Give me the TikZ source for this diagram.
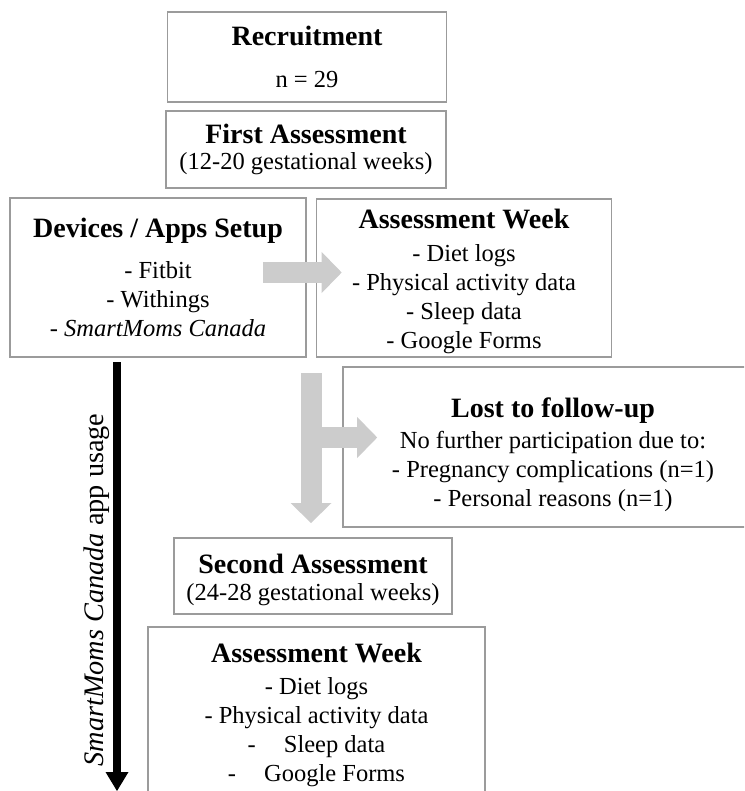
\documentclass[tikz,border=0pt]{standalone}
\usepackage{fontspec}
\setmainfont{Liberation Serif}
\usetikzlibrary{arrows.meta,calc}

\definecolor{boxgray}{RGB}{155,155,155}
\definecolor{flowgray}{RGB}{204,204,204}

\newcommand{\ttl}[1]{{\fontsize{28}{29}\selectfont\bfseries #1}}

\tikzset{
  stage/.style={draw=boxgray, line width=1.6pt, align=center, inner sep=0pt,
    font=\fontsize{24.5}{29}\selectfont},
  flow/.style={draw=flowgray, line width=21pt,
    -{Triangle[length=20pt, width=41pt, line width=0pt]}},
  timeline/.style={draw=black, line width=7.5pt,
    -{Triangle[length=19pt, width=23pt, line width=0pt]}}
}

\begin{document}
\begin{tikzpicture}[x=1pt, y=-1pt]
    \useasboundingbox (0,0) rectangle (744,791);
    \clip (0,0) rectangle (744,791);

    % Enrolment and first visit
    \node[stage, minimum width=279pt, minimum height=90pt] (recruit) at (307,57)
        {\ttl{Recruitment}\\[13pt] n = 29};
    \node[stage, minimum width=280pt, minimum height=77pt] (first) at (306,149.5)
        {\ttl{First Assessment}\\[-3pt] (12-20 gestational weeks)};

    % Setup and first assessment week
    \node[stage, minimum width=296pt, minimum height=159pt] (setup) at (158,277.5)
        {\ttl{Devices / Apps Setup}\\[12pt] - Fitbit\\ - Withings\\ - \textit{SmartMoms Canada}};
    \node[stage, minimum width=295pt, minimum height=158pt] (week1) at (464,278)
        {\ttl{\rule{0pt}{27pt}Assessment Week}\\[4pt] - Diet logs\\ - Physical activity data\\ - Sleep data\\ - Google Forms};

    % Drop-outs
    \node[stage, minimum width=420pt, minimum height=160pt] (lost) at (553,447)
        {\ttl{\rule{0pt}{35pt}Lost to follow-up}\\[2pt] No further participation due to:\\ - Pregnancy complications (n=1)\\ - Personal reasons (n=1)};

    % Second visit
    \node[stage, minimum width=278pt, minimum height=76pt] (second) at (313,576)
        {\ttl{\rule{0pt}{27pt}Second Assessment}\\[-2pt] (24-28 gestational weeks)};
    \node[stage, minimum width=337pt, minimum height=168pt] (week2) at (316.5,711)
        {\ttl{\rule{0pt}{27pt}Assessment Week}\\[3pt] - Diet logs\\ - Physical activity data\\ -\hspace{28pt}Sleep data\\ -\hspace{28pt}Google Forms};

    % Gray flow arrows
    \coordinate (r0) at ($(setup.east)+(-44,-5)$);
    \coordinate (r1) at ($(week1.west)+(26,-5.5)$);
    \draw[flow] (r0) -- (r1);
    \coordinate (d0) at (311,373);
    \coordinate (d1) at (311,523);
    \draw[flow] (d0) -- (d1);
    \coordinate (b0) at (311,437.5);
    \coordinate (b1) at ($(lost.west)+(35,-9.5)$);
    \draw[flow] (b0) -- (b1);

    % App usage timeline
    \coordinate (t0) at (117,362);
    \coordinate (t1) at (117,791);
    \draw[timeline] (t0) -- (t1);
    \node[rotate=90, font=\fontsize{28.3}{29}\selectfont] (applab) at (97,590)
        {\textit{SmartMoms Canada} app usage};
\end{tikzpicture}
\end{document}
